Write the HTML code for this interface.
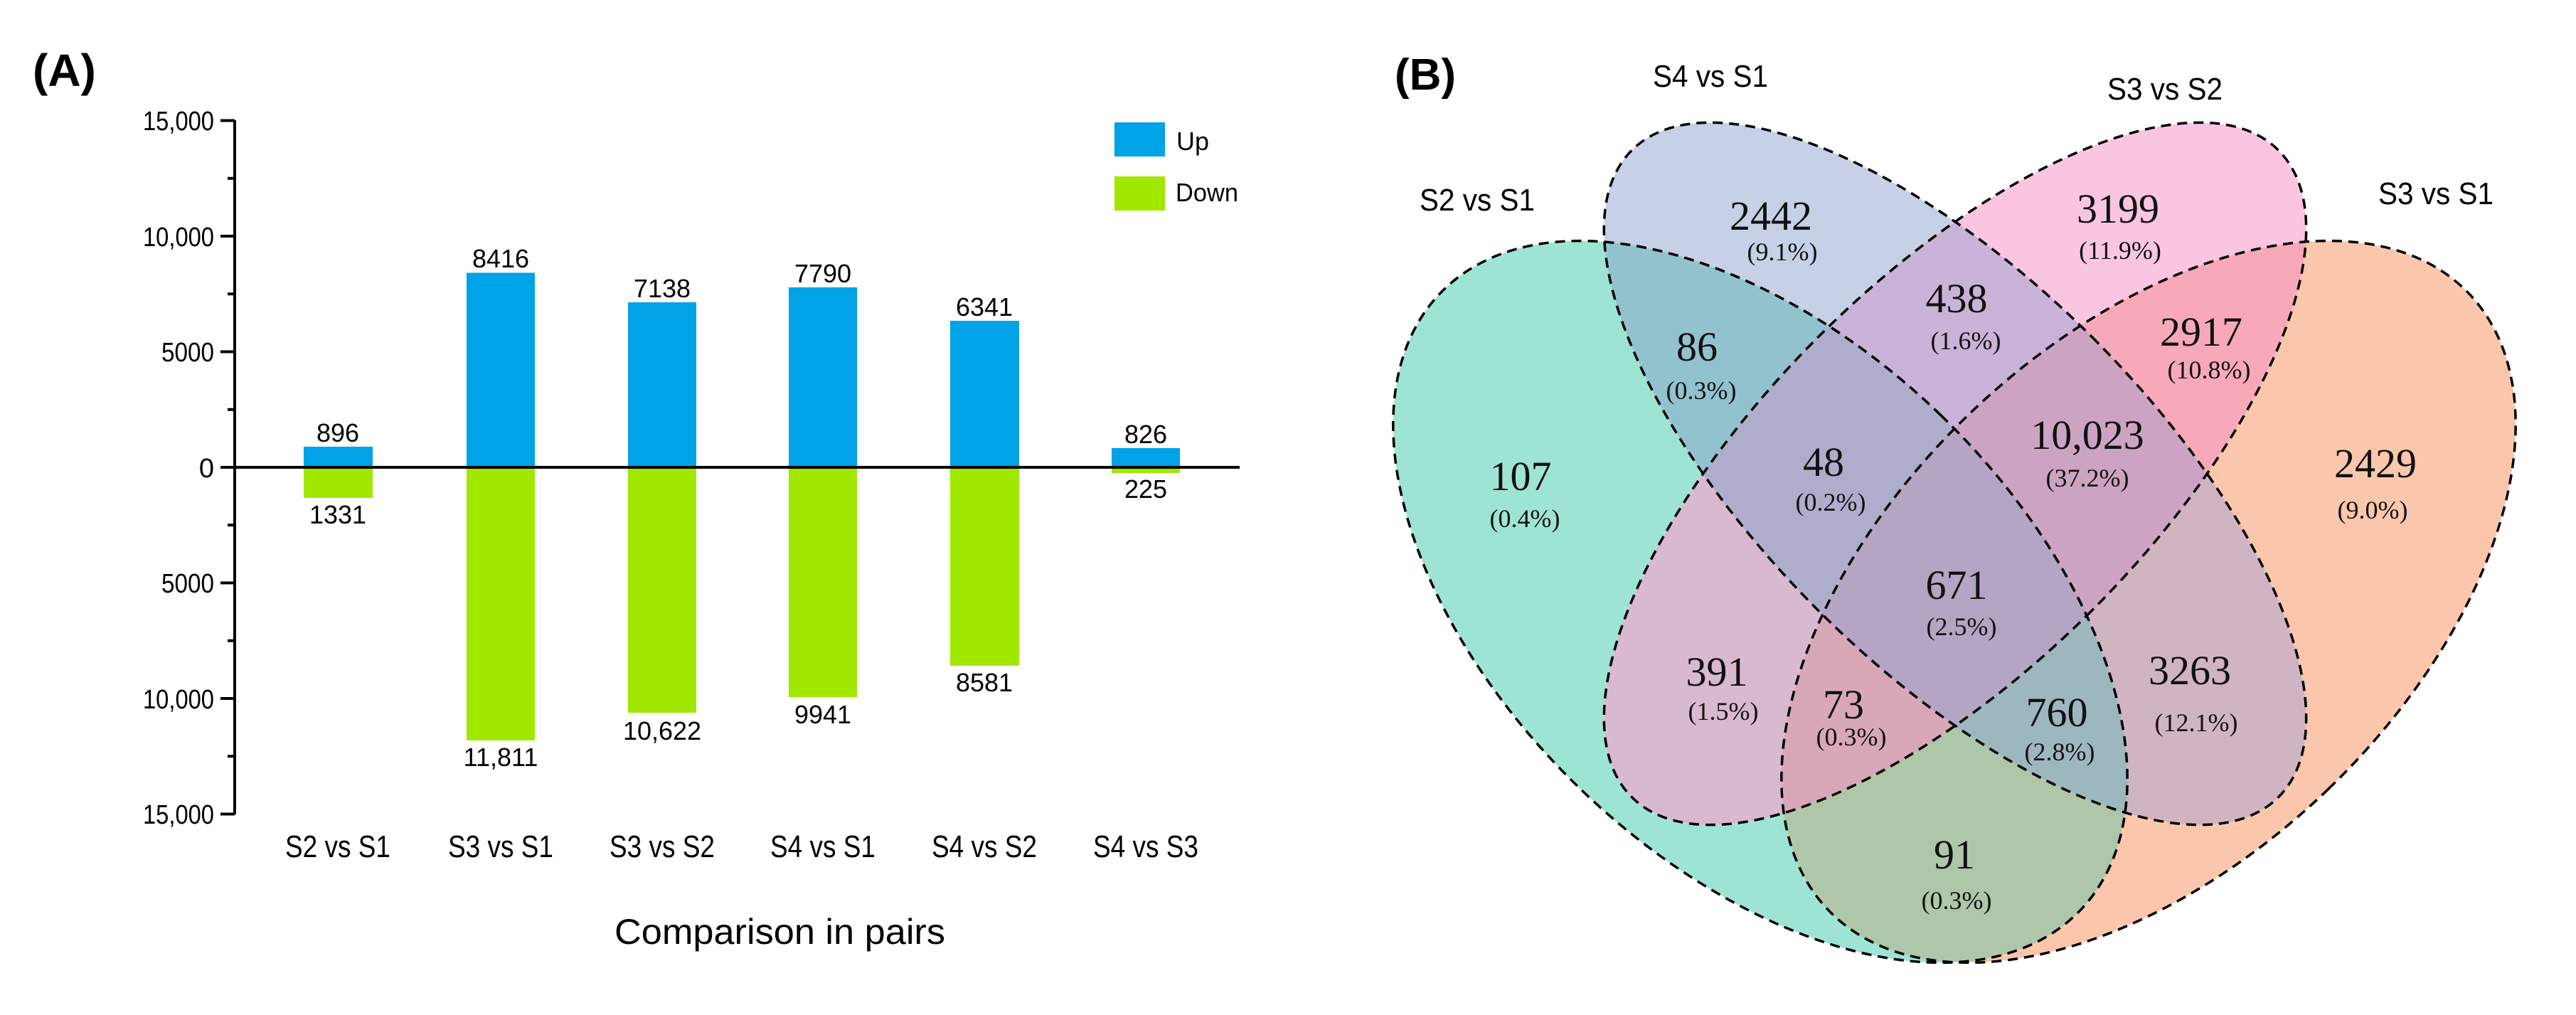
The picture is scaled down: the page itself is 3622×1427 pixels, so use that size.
<!DOCTYPE html>
<html><head><meta charset="utf-8"><style>html,body{margin:0;padding:0;background:#fff;overflow:hidden}svg{display:block}</style></head>
<body>
<svg width="3622" height="1427" viewBox="0 0 3622 1427" xmlns="http://www.w3.org/2000/svg">
<defs>
<clipPath id="cG"><ellipse cx="2475" cy="846" rx="365" ry="625" transform="rotate(-46 2475 846)"/></clipPath>
<clipPath id="cO"><ellipse cx="3021" cy="846" rx="365" ry="625" transform="rotate(46 3021 846)"/></clipPath>
<clipPath id="cB"><ellipse cx="2749" cy="666" rx="272" ry="643" transform="rotate(-45 2749 666)"/></clipPath>
<clipPath id="cP"><ellipse cx="2749" cy="666" rx="272" ry="643" transform="rotate(45 2749 666)"/></clipPath>
</defs>
<rect width="3622" height="1427" fill="#fff"/>
<g font-family="Liberation Sans, sans-serif" fill="#000">
<text x="46" y="121" font-size="64" font-weight="bold">(A)</text>
<line x1="330" y1="169" x2="330" y2="1145" stroke="#000" stroke-width="4"/>
<g stroke="#000" stroke-width="4">
<line x1="310" y1="169.5" x2="330" y2="169.5"/><line x1="320" y1="250.75" x2="330" y2="250.75"/>
<line x1="310" y1="332" x2="330" y2="332"/><line x1="320" y1="413.25" x2="330" y2="413.25"/>
<line x1="310" y1="494.5" x2="330" y2="494.5"/><line x1="320" y1="575.75" x2="330" y2="575.75"/>
<line x1="310" y1="657" x2="330" y2="657"/><line x1="320" y1="738.25" x2="330" y2="738.25"/>
<line x1="310" y1="819.5" x2="330" y2="819.5"/><line x1="320" y1="900.75" x2="330" y2="900.75"/>
<line x1="310" y1="982" x2="330" y2="982"/><line x1="320" y1="1063.25" x2="330" y2="1063.25"/>
<line x1="310" y1="1144.5" x2="330" y2="1144.5"/>
</g>
<g font-size="38" text-anchor="end">
<text x="301" y="183" textLength="100" lengthAdjust="spacingAndGlyphs">15,000</text>
<text x="301" y="346" textLength="100" lengthAdjust="spacingAndGlyphs">10,000</text>
<text x="301" y="508" textLength="74" lengthAdjust="spacingAndGlyphs">5000</text>
<text x="301" y="671">0</text>
<text x="301" y="833" textLength="74" lengthAdjust="spacingAndGlyphs">5000</text>
<text x="301" y="996" textLength="100" lengthAdjust="spacingAndGlyphs">10,000</text>
<text x="301" y="1158" textLength="100" lengthAdjust="spacingAndGlyphs">15,000</text>
</g>
<g fill="#00a2e8">
<rect x="427" y="628" width="97" height="29"/>
<rect x="656" y="383.5" width="96" height="273.5"/>
<rect x="883" y="425" width="96" height="232"/>
<rect x="1109" y="404" width="96" height="253"/>
<rect x="1336" y="451" width="97" height="206"/>
<rect x="1563" y="630" width="96" height="27"/>
</g>
<g fill="#a0e800">
<rect x="427" y="657" width="97" height="43"/>
<rect x="656" y="657" width="96" height="384"/>
<rect x="883" y="657" width="96" height="345"/>
<rect x="1109" y="657" width="96" height="323"/>
<rect x="1336" y="657" width="97" height="279"/>
<rect x="1563" y="657" width="96" height="8"/>
</g>
<line x1="330" y1="657" x2="1743" y2="657" stroke="#000" stroke-width="4"/>
<g font-size="36" text-anchor="middle">
<text x="475" y="621">896</text>
<text x="704" y="376">8416</text>
<text x="931" y="418">7138</text>
<text x="1157" y="397">7790</text>
<text x="1384" y="444">6341</text>
<text x="1611" y="623">826</text>
<text x="475" y="736">1331</text>
<text x="704" y="1077">11,811</text>
<text x="931" y="1040">10,622</text>
<text x="1157" y="1017">9941</text>
<text x="1384" y="972">8581</text>
<text x="1611" y="700">225</text>
</g>
<g font-size="44" text-anchor="middle">
<text x="475" y="1205" textLength="148" lengthAdjust="spacingAndGlyphs">S2 vs S1</text>
<text x="704" y="1205" textLength="148" lengthAdjust="spacingAndGlyphs">S3 vs S1</text>
<text x="931" y="1205" textLength="148" lengthAdjust="spacingAndGlyphs">S3 vs S2</text>
<text x="1157" y="1205" textLength="148" lengthAdjust="spacingAndGlyphs">S4 vs S1</text>
<text x="1384" y="1205" textLength="148" lengthAdjust="spacingAndGlyphs">S4 vs S2</text>
<text x="1611" y="1205" textLength="148" lengthAdjust="spacingAndGlyphs">S4 vs S3</text>
</g>
<text x="864" y="1327" font-size="50" textLength="465" lengthAdjust="spacingAndGlyphs">Comparison in pairs</text>
<rect x="1567" y="172" width="71" height="48" fill="#00a2e8"/>
<rect x="1567" y="248" width="71" height="48" fill="#a0e800"/>
<text x="1654" y="211" font-size="36">Up</text>
<text x="1653" y="283" font-size="36" textLength="88" lengthAdjust="spacingAndGlyphs">Down</text>
</g>

<!-- Venn regions -->
<g>
<rect x="1900" y="100" width="1700" height="1320" fill="#9ee4d4" clip-path="url(#cG)"/>
<rect x="1900" y="100" width="1700" height="1320" fill="#fbc7ac" clip-path="url(#cO)"/>
<rect x="1900" y="100" width="1700" height="1320" fill="#c6d0e6" clip-path="url(#cB)"/>
<rect x="1900" y="100" width="1700" height="1320" fill="#fac5e1" clip-path="url(#cP)"/>
<!-- pairs -->
<g clip-path="url(#cG)"><rect x="1900" y="100" width="1700" height="1320" fill="#93c2cf" clip-path="url(#cB)"/></g>
<g clip-path="url(#cG)"><rect x="1900" y="100" width="1700" height="1320" fill="#d9b9d0" clip-path="url(#cP)"/></g>
<g clip-path="url(#cG)"><rect x="1900" y="100" width="1700" height="1320" fill="#adc7a8" clip-path="url(#cO)"/></g>
<g clip-path="url(#cB)"><rect x="1900" y="100" width="1700" height="1320" fill="#c9b3d8" clip-path="url(#cP)"/></g>
<g clip-path="url(#cB)"><rect x="1900" y="100" width="1700" height="1320" fill="#d1b4c1" clip-path="url(#cO)"/></g>
<g clip-path="url(#cP)"><rect x="1900" y="100" width="1700" height="1320" fill="#f8a9b9" clip-path="url(#cO)"/></g>
<!-- triples -->
<g clip-path="url(#cG)"><g clip-path="url(#cB)"><rect x="1900" y="100" width="1700" height="1320" fill="#aeaecc" clip-path="url(#cP)"/></g></g>
<g clip-path="url(#cB)"><g clip-path="url(#cP)"><rect x="1900" y="100" width="1700" height="1320" fill="#cda3c3" clip-path="url(#cO)"/></g></g>
<g clip-path="url(#cG)"><g clip-path="url(#cP)"><rect x="1900" y="100" width="1700" height="1320" fill="#d9a8b8" clip-path="url(#cO)"/></g></g>
<g clip-path="url(#cG)"><g clip-path="url(#cB)"><rect x="1900" y="100" width="1700" height="1320" fill="#9db7bf" clip-path="url(#cO)"/></g></g>
<!-- all -->
<g clip-path="url(#cG)"><g clip-path="url(#cB)"><g clip-path="url(#cP)"><rect x="1900" y="100" width="1700" height="1320" fill="#b3a5c3" clip-path="url(#cO)"/></g></g></g>
</g>
<g stroke="#000" stroke-width="3.5" stroke-dasharray="14,9" fill="none">
<ellipse cx="2475" cy="846" rx="365" ry="625" transform="rotate(-46 2475 846)"/>
<ellipse cx="3021" cy="846" rx="365" ry="625" transform="rotate(46 3021 846)"/>
<ellipse cx="2749" cy="666" rx="272" ry="643" transform="rotate(-45 2749 666)"/>
<ellipse cx="2749" cy="666" rx="272" ry="643" transform="rotate(45 2749 666)"/>
</g>
<g font-family="Liberation Sans, sans-serif" fill="#000" font-size="44" text-anchor="middle">
<text x="2004" y="126" font-size="62" font-weight="bold">(B)</text>
<text x="2405" y="122" textLength="162" lengthAdjust="spacingAndGlyphs">S4 vs S1</text>
<text x="3044" y="140" textLength="162" lengthAdjust="spacingAndGlyphs">S3 vs S2</text>
<text x="2077" y="296" textLength="162" lengthAdjust="spacingAndGlyphs">S2 vs S1</text>
<text x="3425" y="287" textLength="162" lengthAdjust="spacingAndGlyphs">S3 vs S1</text>
</g>
<g font-family="Liberation Serif, serif" fill="#111" text-anchor="middle">
<g font-size="58">
<text x="2490" y="323">2442</text>
<text x="2978" y="313">3199</text>
<text x="2386" y="507">86</text>
<text x="2751" y="439">438</text>
<text x="3095" y="486">2917</text>
<text x="2138" y="689">107</text>
<text x="2564" y="669">48</text>
<text x="2935" y="631">10,023</text>
<text x="3340" y="671">2429</text>
<text x="2751" y="842">671</text>
<text x="2414" y="964">391</text>
<text x="2592" y="1010">73</text>
<text x="2892" y="1021">760</text>
<text x="3079" y="962">3263</text>
<text x="2748" y="1221">91</text>
</g>
<g font-size="36">
<text x="2506" y="366">(9.1%)</text>
<text x="2981" y="364">(11.9%)</text>
<text x="2392" y="561">(0.3%)</text>
<text x="2764" y="491">(1.6%)</text>
<text x="3106" y="532">(10.8%)</text>
<text x="2144" y="741">(0.4%)</text>
<text x="2574" y="718">(0.2%)</text>
<text x="2935" y="684">(37.2%)</text>
<text x="3336" y="729">(9.0%)</text>
<text x="2758" y="893">(2.5%)</text>
<text x="2423" y="1012">(1.5%)</text>
<text x="2603" y="1048">(0.3%)</text>
<text x="2896" y="1069">(2.8%)</text>
<text x="3088" y="1028">(12.1%)</text>
<text x="2751" y="1278">(0.3%)</text>
</g>
</g>
</svg>
</body></html>
